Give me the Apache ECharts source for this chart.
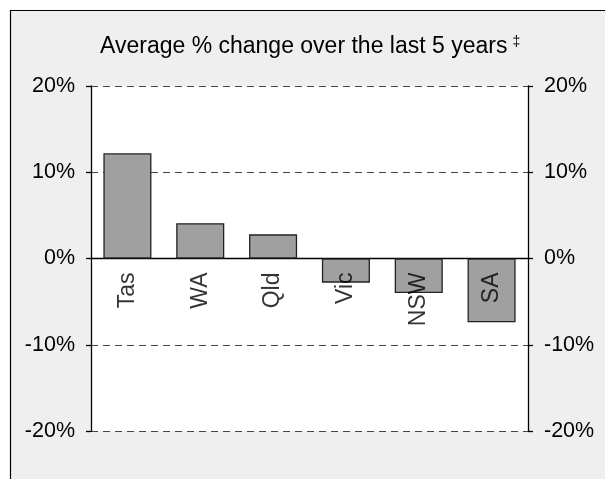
<!DOCTYPE html>
<html>
<head>
<meta charset="utf-8">
<script src="https://cdn.jsdelivr.net/npm/echarts@6/dist/echarts.min.js"></script>
<style>
html,body{margin:0;padding:0;background:#fff;}
#chart{width:605px;height:479px;}
</style>
</head>
<body>
<div id="chart"></div>
<script>
var categories = ['Tas', 'WA', 'Qld', 'Vic', 'NSW', 'SA'];
var values = [12.2, 4.1, 2.8, -2.8, -4.0, -7.4];
var yTicks = [-20, -10, 0, 10, 20];
var titleText = 'Average % change over the last 5 years';
var titleMark = '‡';

var FONT = '"Liberation Sans", Arial, sans-serif';
var chart = echarts.init(document.getElementById('chart'), null, {renderer: 'canvas'});

function yAxisDef(pos, showSplit) {
  return {
    type: 'value',
    position: pos,
    min: yTicks[0],
    max: yTicks[yTicks.length - 1],
    interval: 10,
    axisLine: {show: true, lineStyle: {color: '#000', width: 1.3}},
    axisTick: {show: true, inside: false, length: 5, lineStyle: {color: '#000', width: 1.3}},
    axisLabel: {
      color: '#000', fontFamily: FONT, fontSize: 21.5, margin: 16,
      formatter: '{value}%'
    },
    splitLine: {show: showSplit, lineStyle: {color: '#444', width: 1.2, type: [7, 5]}}
  };
}

var option = {
  backgroundColor: '#fff',
  animation: false,
  graphic: [{
    type: 'rect',
    z: -100,
    silent: true,
    shape: {x: 10.5, y: 10.5, width: 700, height: 600},
    style: {fill: '#efefef', stroke: '#000', lineWidth: 1.2}
  }],
  title: {
    text: '{a|' + titleText + '} {s|' + titleMark + '}',
    left: 95,
    top: 30,
    textStyle: {
      fontWeight: 'normal',
      rich: {
        a: {fontFamily: FONT, fontSize: 23, fontWeight: 'normal', color: '#000'},
        s: {fontFamily: FONT, fontSize: 14, fontWeight: 'normal', color: '#000', verticalAlign: 'top', padding: [0, 0, 10, 0]}
      }
    }
  },
  grid: {
    left: 91, right: 77, top: 86, bottom: 48,
    show: true, backgroundColor: '#fff', borderWidth: 0
  },
  xAxis: {
    type: 'category',
    data: categories,
    axisLine: {show: true, onZero: true, lineStyle: {color: '#000', width: 1.3}},
    axisTick: {show: false},
    axisLabel: {show: false},
    splitLine: {show: false}
  },
  yAxis: [yAxisDef('left', true), yAxisDef('right', false)],
  series: [{
    type: 'bar',
    data: values,
    barWidth: '66%',
    itemStyle: {color: '#a0a0a0', borderColor: '#222', borderWidth: 1.3},
    z: 3
  }, {
    type: 'scatter',
    data: categories.map(function (c) { return [c, 0]; }),
    symbolSize: 0,
    silent: true,
    z: 5,
    label: {
      show: true,
      position: 'bottom',
      distance: 14,
      rotate: 90,
      align: 'right',
      verticalAlign: 'middle',
      color: '#000',
      fontFamily: FONT,
      fontSize: 23,
      formatter: function (p) { return p.value[0]; }
    }
  }]
};
chart.setOption(option);
</script>
</body>
</html>
